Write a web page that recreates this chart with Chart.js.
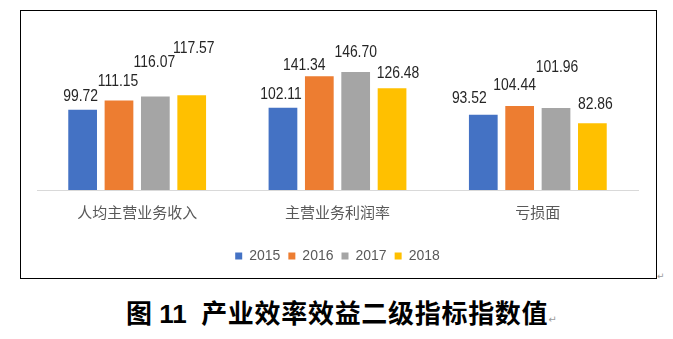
<!DOCTYPE html>
<html>
<head>
<meta charset="utf-8">
<script src="https://cdn.jsdelivr.net/npm/chart.js@4.4.0/dist/chart.umd.min.js"></script>
<style>
  html, body { margin: 0; padding: 0; background: #fff; }
  body { width: 673px; height: 339px; position: relative; overflow: hidden; }
  #frame { position: absolute; left: 20px; top: 10px; width: 635px; height: 267px; border: 1px solid #000; }
  #frame canvas { display: block; }
  .mark { position: absolute; color: #9a9a9a; font: 9px "DejaVu Sans", sans-serif; }
  #caption { position: absolute; left: 126px; top: 293px; line-height: 30px; white-space: pre; color: #000;
             font: bold 26px "Liberation Sans", "Noto Sans CJK SC", sans-serif; }
  #caption .name { letter-spacing: 0.7px; }
  #caption .tail { color: #9a9a9a; font: normal 10px "DejaVu Sans", sans-serif; letter-spacing: 0; }
</style>
</head>
<body>
<div id="frame"><canvas id="chart" width="635" height="267"></canvas></div>
<span class="mark" style="left:657px; top:271px">↵</span>
<div id="caption">图 11  <span class="name">产业效率效益二级指标指数值</span><span class="tail">↵</span></div>

<script>
'use strict';

const categories = ['人均主营业务收入', '主营业务利润率', '亏损面'];
const years      = ['2015', '2016', '2017', '2018'];
const values2015 = [99.72, 102.11, 93.52];
const values2016 = [111.15, 141.34, 104.44];
const values2017 = [116.07, 146.70, 101.96];
const values2018 = [117.57, 126.48, 82.86];
const colors     = ['#4472C4', '#ED7D31', '#A5A5A5', '#FFC000'];

// the labels in the original were dragged by hand, so nudge them the same way (px)
const labelDx   = [[-2, -2, -14], [-1, -15, -5], [-1, 0, 1], [2, 6, 3]];
const labelRise = [[13, 13, 16], [19, 11, 20], [34, 19, 40], [47, 15, 19]];

const seriesValues = [values2015, values2016, values2017, values2018];

// value labels above the bars
const barLabels = {
  id: 'barLabels',
  afterDatasetsDraw(chart) {
    const ctx = chart.ctx;
    ctx.save();
    ctx.fillStyle    = '#262626';
    ctx.font         = '16px "Liberation Sans", Arial, sans-serif';
    ctx.textAlign    = 'center';
    ctx.textBaseline = 'middle';
    chart.data.datasets.forEach((ds, i) => {
      chart.getDatasetMeta(i).data.forEach((bar, j) => {
        ctx.save();
        ctx.translate(bar.x + labelDx[i][j], bar.y - labelRise[i][j]);
        ctx.scale(0.87, 1);
        ctx.fillText(ds.data[j].toFixed(2), 0, 0);
        ctx.restore();
      });
    });
    ctx.restore();
  }
};

new Chart(document.getElementById('chart'), {
  type: 'bar',
  data: {
    labels: categories,
    datasets: seriesValues.map((data, i) => ({
      label: years[i],
      data,
      backgroundColor: colors[i],
      categoryPercentage: 0.726,
      barPercentage: 0.79,
    }))
  },
  options: {
    responsive: false,
    animation: false,
    layout: { padding: { left: 16, right: 18, top: 18, bottom: 5 } },
    plugins: {
      legend: {
        position: 'bottom',
        labels: {
          boxWidth: 7, boxHeight: 7, padding: 8,
          color: '#595959',
          font: { size: 14, family: '"Liberation Sans", Arial, sans-serif' }
        }
      },
      tooltip: { enabled: false },
    },
    scales: {
      x: {
        grid:   { display: false, drawTicks: false },
        border: { color: '#d9d9d9', width: 1 },
        ticks:  { color: '#595959', padding: 13, font: { size: 15, family: '"Noto Sans CJK SC", sans-serif' } },
        afterFit(scale) { scale.height = 51; },
      },
      y: { display: false, min: 0, max: 200 }
    }
  },
  plugins: [barLabels]
});
</script>
</body>
</html>
